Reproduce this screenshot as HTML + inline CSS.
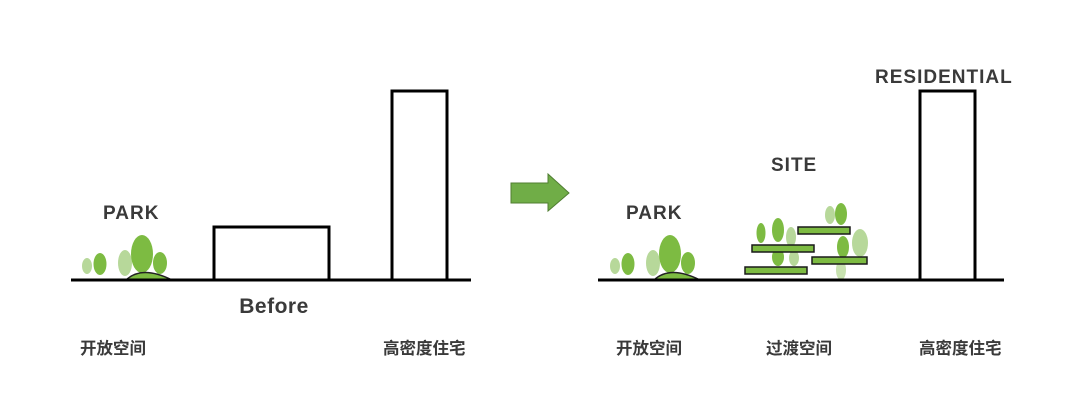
<!DOCTYPE html>
<html><head><meta charset="utf-8"><style>
html,body{margin:0;padding:0;background:#fff;}
svg{display:block;}
text{font-family:"Liberation Sans","Noto Sans CJK SC",sans-serif;font-weight:bold;fill:#3a3a3a;}
.l{font-size:19px;letter-spacing:1px;}
.c{font-size:16.5px;}
</style></head><body>
<svg width="1080" height="408" viewBox="0 0 1080 408" xmlns="http://www.w3.org/2000/svg">
<rect width="1080" height="408" fill="#fff"/>
<g>
<ellipse cx="87" cy="266" rx="5" ry="8" fill="#b7d89a"/>
<ellipse cx="100" cy="264" rx="6.5" ry="11" fill="#7dbb42"/>
<ellipse cx="125" cy="263" rx="7" ry="13" fill="#b7d89a"/>
<ellipse cx="142" cy="254" rx="11" ry="19" fill="#7dbb42"/>
<ellipse cx="160" cy="263" rx="7" ry="11" fill="#7dbb42"/>
<path d="M126 280 Q142 265 172 280 Z" fill="#7dbb42" stroke="#222" stroke-width="1.5"/>
<rect x="214" y="227" width="115" height="53" fill="none" stroke="#000" stroke-width="3"/>
<rect x="392" y="91" width="55" height="189" fill="none" stroke="#000" stroke-width="3"/>
<line x1="71" y1="280" x2="471" y2="280" stroke="#000" stroke-width="3"/>
<text x="103" y="219" class="l">PARK</text>
<text x="274" y="313" font-size="21" letter-spacing="0.5" text-anchor="middle">Before</text>
<text x="80" y="354" class="c">开放空间</text>
<text x="383" y="354" class="c">高密度住宅</text>
</g>
<path d="M511 183 H548 V174 L569 193 L548 211 V203 H511 Z" fill="#70ad47" stroke="#507e32" stroke-width="1"/>
<g>
<ellipse cx="615" cy="266" rx="5" ry="8" fill="#b7d89a"/>
<ellipse cx="628" cy="264" rx="6.5" ry="11" fill="#7dbb42"/>
<ellipse cx="653" cy="263" rx="7" ry="13" fill="#b7d89a"/>
<ellipse cx="670" cy="254" rx="11" ry="19" fill="#7dbb42"/>
<ellipse cx="688" cy="263" rx="7" ry="11" fill="#7dbb42"/>
<path d="M654 280 Q670 265 700 280 Z" fill="#7dbb42" stroke="#222" stroke-width="1.5"/>
<ellipse cx="761" cy="233" rx="4.5" ry="10" fill="#7dbb42"/>
<ellipse cx="778" cy="230" rx="6" ry="12" fill="#7dbb42"/>
<ellipse cx="791" cy="237" rx="5" ry="10" fill="#b7d89a"/>
<ellipse cx="778" cy="257" rx="6" ry="9" fill="#7dbb42"/>
<ellipse cx="794" cy="258" rx="5" ry="8" fill="#b7d89a"/>
<ellipse cx="830" cy="215" rx="5" ry="9" fill="#b7d89a"/>
<ellipse cx="841" cy="214" rx="6" ry="11" fill="#7dbb42"/>
<ellipse cx="843" cy="247" rx="6" ry="11" fill="#7dbb42"/>
<ellipse cx="860" cy="243" rx="8" ry="14" fill="#b7d89a"/>
<ellipse cx="841" cy="270" rx="5" ry="10" fill="#c8e2b0"/>
<g fill="#7dbb42" stroke="#1a1a1a" stroke-width="1.5">
<rect x="745" y="267" width="62" height="7"/>
<rect x="752" y="245" width="62" height="7"/>
<rect x="798" y="227" width="52" height="7"/>
<rect x="812" y="257" width="55" height="7"/>
</g>
<rect x="920" y="91" width="55" height="189" fill="none" stroke="#000" stroke-width="3"/>
<line x1="598" y1="280" x2="1004" y2="280" stroke="#000" stroke-width="3"/>
<text x="626" y="219" class="l">PARK</text>
<text x="771" y="171" class="l">SITE</text>
<text x="875" y="83" class="l">RESIDENTIAL</text>
<text x="616" y="354" class="c">开放空间</text>
<text x="766" y="354" class="c">过渡空间</text>
<text x="919" y="354" class="c">高密度住宅</text>
</g>
</svg>
</body></html>
